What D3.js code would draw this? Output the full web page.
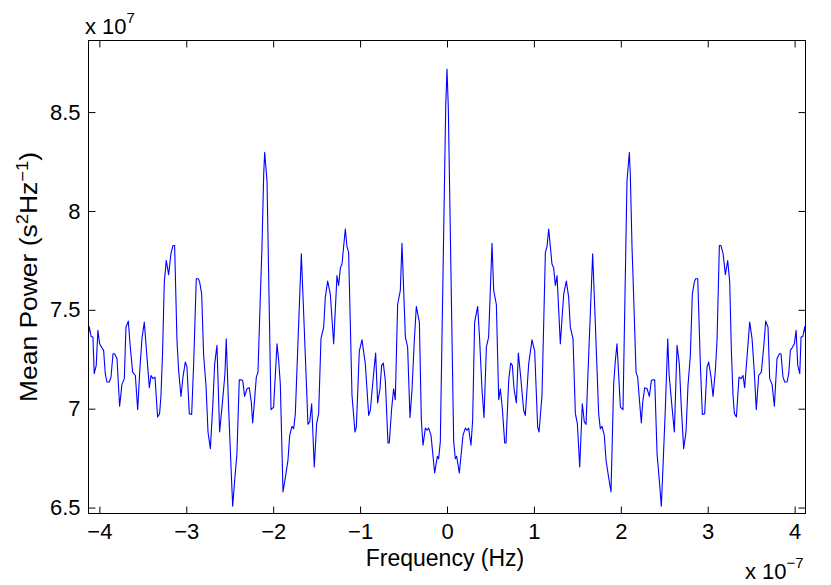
<!DOCTYPE html>
<html>
<head>
<meta charset="utf-8">
<script src="https://cdn.jsdelivr.net/npm/d3@7"></script>
<style>
  html, body { margin: 0; padding: 0; background: #fff; }
  svg { display: block; }
  text { font-family: "Liberation Sans", Arial, Helvetica, sans-serif; fill: #000; }
</style>
</head>
<body>
<svg id="chart" width="831" height="585"></svg>
<script>
// Frequency in units of 1e-7 Hz
const freq = [
-4.125,-4.117,-4.094,-4.074,-4.059,-4.036,-4.017,-3.997,-3.971,-3.951,-3.932,-3.913,-3.886,-3.866,-3.843,-3.824,-3.797,-3.767,-3.740,-3.713,
-3.694,-3.667,-3.644,-3.617,-3.586,-3.559,-3.536,-3.510,-3.483,-3.452,-3.425,-3.406,-3.383,-3.360,-3.330,-3.307,-3.291,-3.272,-3.253,-3.230,
-3.203,-3.176,-3.153,-3.134,-3.107,-3.088,-3.061,-3.038,-3.011,-2.992,-2.965,-2.938,-2.915,-2.885,-2.861,-2.846,-2.823,-2.800,-2.773,-2.750,
-2.723,-2.696,-2.673,-2.647,-2.616,-2.582,-2.555,-2.540,-2.513,-2.486,-2.466,-2.443,-2.417,-2.390,-2.371,-2.351,-2.329,-2.302,-2.275,-2.252,
-2.236,-2.213,-2.194,-2.175,-2.148,-2.129,-2.109,-2.098,-2.071,-2.025,-1.995,-1.956,-1.937,-1.918,-1.887,-1.860,-1.830,-1.810,-1.784,-1.764,
-1.745,-1.707,-1.676,-1.619,-1.600,-1.580,-1.557,-1.527,-1.500,-1.477,-1.450,-1.419,-1.400,-1.373,-1.343,-1.304,-1.266,-1.247,-1.227,-1.208,
-1.170,-1.151,-1.132,-1.093,-1.059,-1.043,-1.009,-0.978,-0.940,-0.901,-0.882,-0.848,-0.821,-0.798,-0.771,-0.752,-0.733,-0.710,-0.679,-0.664,
-0.637,-0.614,-0.595,-0.568,-0.537,-0.518,-0.479,-0.453,-0.426,-0.403,-0.376,-0.353,-0.318,-0.295,-0.276,-0.249,-0.230,-0.211,-0.184,-0.142,
-0.111,-0.096,-0.077,-0.015,
0.000,
0.015,0.077,0.096,0.111,
0.142,0.184,0.211,0.230,0.249,0.276,0.295,0.318,0.353,0.376,0.403,0.426,0.453,0.479,0.518,0.537,0.568,0.595,0.614,0.637,
0.664,0.679,0.710,0.733,0.752,0.771,0.798,0.821,0.848,0.882,0.901,0.940,0.978,1.009,1.043,1.059,1.093,1.132,1.151,1.170,
1.208,1.227,1.247,1.266,1.304,1.343,1.373,1.400,1.419,1.450,1.477,1.500,1.527,1.557,1.580,1.600,1.619,1.676,1.707,1.745,
1.764,1.784,1.810,1.830,1.860,1.887,1.918,1.937,1.956,1.995,2.025,2.071,2.098,2.109,2.129,2.148,2.175,2.194,2.213,2.236,
2.252,2.275,2.302,2.329,2.351,2.371,2.390,2.417,2.443,2.466,2.486,2.513,2.540,2.555,2.582,2.616,2.647,2.673,2.696,2.723,
2.750,2.773,2.800,2.823,2.846,2.861,2.885,2.915,2.938,2.965,2.992,3.011,3.038,3.061,3.088,3.107,3.134,3.153,3.176,3.203,
3.230,3.253,3.272,3.291,3.307,3.330,3.360,3.383,3.406,3.425,3.452,3.483,3.510,3.536,3.559,3.586,3.617,3.644,3.667,3.694,
3.713,3.740,3.767,3.797,3.824,3.843,3.866,3.886,3.913,3.932,3.951,3.971,3.997,4.017,4.036,4.059,4.074,4.094,4.117,4.125
];

// Mean power in units of 1e7 s^2 Hz^-1
const power = [
7.380,7.416,7.365,7.362,7.177,7.219,7.396,7.328,7.308,7.295,7.177,7.135,7.135,7.160,7.278,7.278,7.253,7.012,7.123,7.152,
7.412,7.443,7.311,7.185,7.168,6.995,7.185,7.354,7.438,7.261,7.106,7.168,7.152,7.160,6.958,6.975,7.067,7.295,7.640,7.749,
7.678,7.786,7.825,7.825,7.345,7.194,7.062,7.160,7.236,7.210,6.975,6.971,7.227,7.657,7.657,7.640,7.581,7.269,7.118,6.882,
6.798,7.008,7.227,7.320,6.882,7.042,7.177,7.354,7.008,6.714,6.507,6.638,6.773,7.146,7.146,7.143,7.062,7.101,7.106,7.034,
6.928,7.051,7.160,7.185,7.564,7.817,8.187,8.296,8.153,6.995,7.008,7.328,7.244,7.126,6.579,6.652,6.739,6.865,6.911,6.899,
6.975,7.429,7.783,7.143,6.921,6.933,7.025,6.705,6.924,6.975,7.354,7.412,7.564,7.645,7.581,7.328,7.673,7.623,7.712,7.732,
7.909,7.820,7.791,7.067,6.882,6.907,7.291,7.348,7.227,6.966,6.992,7.160,7.281,7.029,7.101,7.219,7.231,7.143,6.827,6.827,
7.000,7.101,7.045,7.527,7.598,7.837,7.362,7.311,6.955,7.093,7.345,7.517,7.438,6.941,6.815,6.902,6.891,6.902,6.865,6.675,
6.759,6.747,6.832,8.524,
8.717,
8.524,6.832,6.747,6.759,
6.675,6.865,6.902,6.891,6.902,6.815,6.941,7.438,7.517,7.345,7.093,6.955,7.311,7.362,7.837,7.598,7.527,7.045,7.101,7.000,
6.827,6.827,7.143,7.231,7.219,7.101,7.029,7.281,7.160,6.992,6.966,7.227,7.348,7.291,6.907,6.882,7.067,7.791,7.820,7.909,
7.732,7.712,7.623,7.673,7.328,7.581,7.645,7.564,7.412,7.354,6.975,6.924,6.705,7.025,6.933,6.921,7.143,7.783,7.429,6.975,
6.899,6.911,6.865,6.739,6.652,6.579,7.126,7.244,7.328,7.008,6.995,8.153,8.296,8.187,7.817,7.564,7.185,7.160,7.051,6.928,
7.034,7.106,7.101,7.062,7.143,7.146,7.146,6.773,6.638,6.507,6.714,7.008,7.354,7.177,7.042,6.882,7.320,7.227,7.008,6.798,
6.882,7.118,7.269,7.581,7.640,7.657,7.657,7.227,6.971,6.975,7.210,7.236,7.160,7.062,7.194,7.345,7.825,7.825,7.786,7.678,
7.749,7.640,7.295,7.067,6.975,6.958,7.160,7.152,7.168,7.106,7.261,7.438,7.354,7.185,6.995,7.168,7.185,7.311,7.443,7.412,
7.152,7.123,7.012,7.253,7.278,7.278,7.160,7.135,7.135,7.177,7.295,7.308,7.328,7.396,7.219,7.177,7.362,7.365,7.416,7.380
];

const xTicks = [-4, -3, -2, -1, 0, 1, 2, 3, 4];
const xTickLabels = ["\u22124", "\u22123", "\u22122", "\u22121", "0", "1", "2", "3", "4"];
const yTicks = [6.5, 7, 7.5, 8, 8.5];
const yTickLabels = ["6.5", "7", "7.5", "8", "8.5"];
const xDomain = [-4.125, 4.125];
const yDomain = [6.47, 8.862];

const svg = d3.select("#chart");
const L = 88.5, R = 805.5, T = 40.5, B = 513.5;
const x = d3.scaleLinear().domain(xDomain).range([L, R]);
const y = d3.scaleLinear().domain(yDomain).range([B, T]);
const FS = 22;
const tickLen = 7;

// Data line
const pts = freq.map((f, i) => [f, power[i]]);
svg.append("path")
  .datum(pts)
  .attr("fill", "none")
  .attr("stroke", "#0000ff")
  .attr("stroke-width", 1.1)
  .attr("stroke-linejoin", "round")
  .attr("d", d3.line().x(d => x(d[0])).y(d => y(d[1])));

// Axes
function styleAxis(g) {
  g.select(".domain").remove();
  g.selectAll(".tick line").attr("stroke", "#000").attr("stroke-width", 1);
  g.selectAll(".tick text").style("font-size", FS + "px")
    .style("font-family", '"Liberation Sans", Arial, Helvetica, sans-serif');
}
svg.append("g").attr("transform", `translate(0,${B})`)
  .call(d3.axisBottom(x).tickValues(xTicks).tickSize(-tickLen).tickPadding(10)
    .tickFormat((d, i) => xTickLabels[i]))
  .call(styleAxis);
svg.append("g").attr("transform", `translate(0,${T})`)
  .call(d3.axisTop(x).tickValues(xTicks).tickSize(-tickLen).tickFormat(""))
  .call(styleAxis);
svg.append("g").attr("transform", `translate(${L},0)`)
  .call(d3.axisLeft(y).tickValues(yTicks).tickSize(-tickLen).tickPadding(8)
    .tickFormat((d, i) => yTickLabels[i]))
  .call(styleAxis);
svg.append("g").attr("transform", `translate(${R},0)`)
  .call(d3.axisRight(y).tickValues(yTicks).tickSize(-tickLen).tickFormat(""))
  .call(styleAxis);

// Box
svg.append("rect")
  .attr("x", L).attr("y", T).attr("width", R - L).attr("height", B - T)
  .attr("fill", "none").attr("stroke", "#000").attr("stroke-width", 1);

// Exponent labels
const topExp = svg.append("text").attr("x", 85).attr("y", 34).style("font-size", FS + "px");
topExp.append("tspan").text("x 10");
topExp.append("tspan").attr("dy", -11).style("font-size", "15px").text("7");

const botExp = svg.append("text").attr("x", 745).attr("y", 579).style("font-size", FS + "px");
botExp.append("tspan").text("x 10");
botExp.append("tspan").attr("dy", -11).style("font-size", "15px").text("\u22127");

// Axis titles
svg.append("text").attr("x", (L + R) / 2 - 2).attr("y", 566)
  .attr("text-anchor", "middle").style("font-size", "23px")
  .text("Frequency (Hz)");

const yl = svg.append("text")
  .attr("transform", `translate(37,${(T + B) / 2}) rotate(-90)`)
  .attr("text-anchor", "middle").style("font-size", "23px")
  .attr("textLength", 250).attr("lengthAdjust", "spacingAndGlyphs");
yl.append("tspan").text("Mean Power (s");
yl.append("tspan").attr("dy", -9).style("font-size", "16px").text("2");
yl.append("tspan").attr("dy", 9).text("Hz");
yl.append("tspan").attr("dy", -9).style("font-size", "16px").text("\u22121");
yl.append("tspan").attr("dy", 9).text(")");
</script>
</body>
</html>
